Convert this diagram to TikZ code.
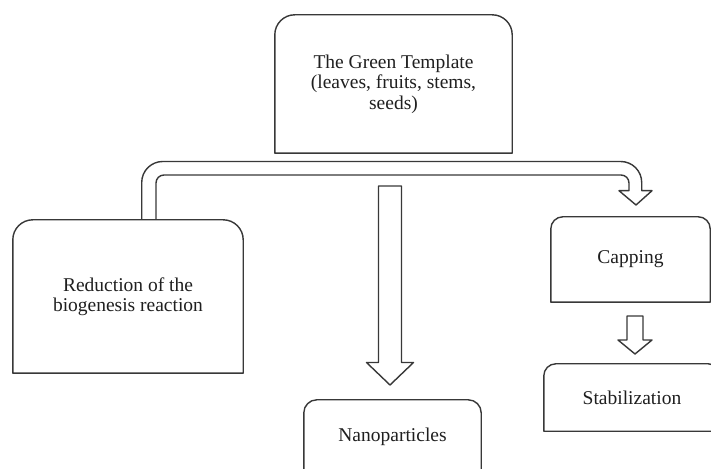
\documentclass[tikz,border=0pt]{standalone}
\usepackage{fontspec}
\setmainfont{Liberation Serif}
\tikzset{
  boxline/.style={draw=black!78, line width=1.4pt, line join=round},
  label/.style={inner sep=0pt, align=center, text=black!88,
    font=\fontsize{19.5}{20.5}\selectfont},
}
% outline of a box with rounded top corners and square bottom corners
\newcommand{\archbox}[2]{%
  \draw[boxline] (#1.south west) -- ([yshift=-#2]#1.north west)
    arc[start angle=180, end angle=90, radius=#2]
    -- ([xshift=-#2]#1.north east)
    arc[start angle=90, end angle=0, radius=#2]
    -- (#1.south east) -- cycle;}
\begin{document}
\begin{tikzpicture}[x=1pt, y=1pt]
\useasboundingbox (0,0) rectangle (711,468);
\fill[white] (0,0) rectangle (711,468);
\clip (0,0) rectangle (711,468);

% boxes
\node[label, minimum width=237pt, minimum height=138pt] (green) at (393.5,384)
  {The Green Template\\(leaves, fruits, stems,\\seeds)};
\node[label, minimum width=230pt, minimum height=153pt] (reduct) at (128,171.5)
  {Reduction of the\\biogenesis reaction};
\node[label, minimum width=159pt, minimum height=85pt] (capping) at (630.5,208.5)
  {Capping};
\node[label, minimum width=176pt, minimum height=67pt] (stab) at (632,70.5)
  {Stabilization};
\node[label, minimum width=177pt, minimum height=74pt] (nano) at (392.5,31)
  {Nanoparticles};

\archbox{green}{20pt}
\archbox{reduct}{20pt}
\archbox{capping}{12pt}
\archbox{stab}{12pt}
\archbox{nano}{13pt}

% bent block arrow from the reduction box over to the capping box
\coordinate (outL) at (141.7,0);
\coordinate (inL) at (156,0);
\draw[boxline]
  (reduct.north -| outL) -- (141.7,285.5)
  arc[start angle=180, end angle=90, radius=21pt]
  -- (620.7,306.5)
  arc[start angle=90, end angle=0, radius=21pt]
  -- (641.7,277.3) -- (652,277.3) -- (636,263) -- (619,277.3) -- (629,277.3)
  -- (629,285)
  arc[start angle=0, end angle=90, radius=8pt]
  -- (164,293)
  arc[start angle=90, end angle=180, radius=8pt]
  -- (reduct.north -| inL);

% straight block arrow down to the nanoparticles
\draw[boxline] (378.5,282) -- (401.5,282) -- (401.5,105.5) -- (413.5,105.5)
  -- (390,83) -- (366.5,105.5) -- (378.5,105.5) -- cycle;

% small block arrow from capping to stabilization
\draw[boxline] (627,152) -- (643,152) -- (643,128) -- (652,128)
  -- (635,114) -- (618,128) -- (627,128) -- cycle;
\end{tikzpicture}
\end{document}
